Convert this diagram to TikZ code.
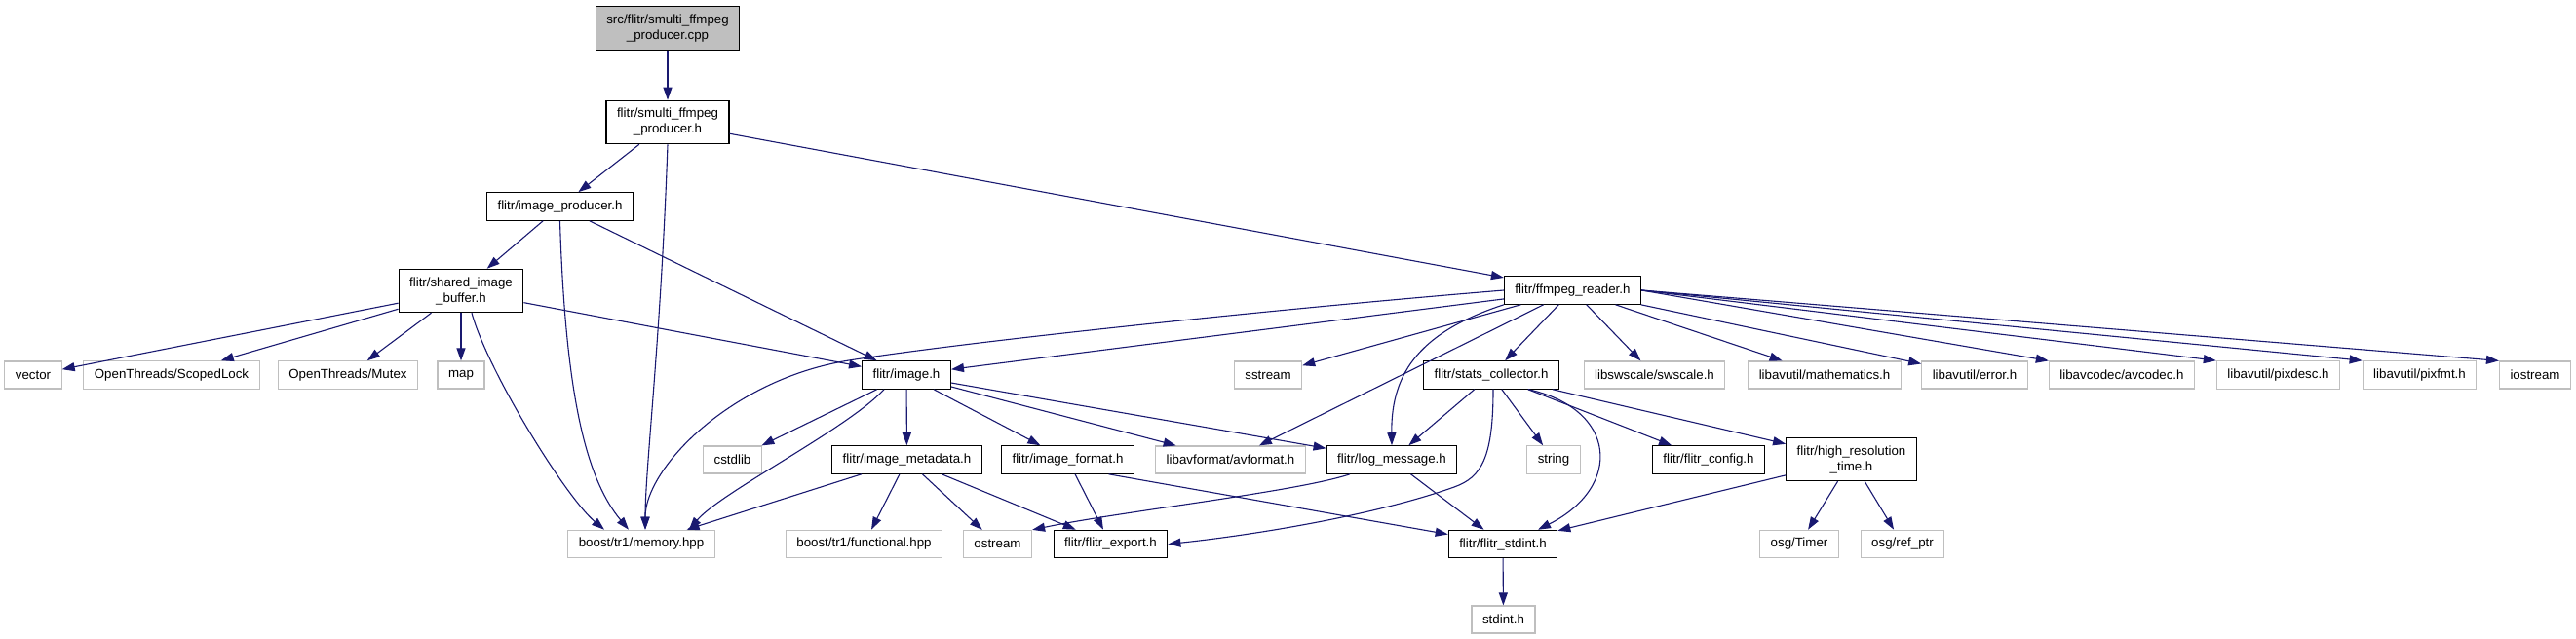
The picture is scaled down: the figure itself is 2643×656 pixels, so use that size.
\documentclass[tikz,border=0pt]{standalone}
\usepackage{fontspec}
\setmainfont{Liberation Sans}
\usetikzlibrary{arrows.meta}

\definecolor{edgeblue}{RGB}{25,25,112}
\definecolor{boxgrey}{RGB}{191,191,191}

\begin{document}
\begin{tikzpicture}[x=1pt, y=-1pt,
    every node/.style={font=\fontsize{13.3}{16}\selectfont, align=center,
      inner xsep=11pt, inner ysep=8pt, minimum height=28pt, line width=1.2pt},
    hdr/.style={draw=black, fill=white},
    ext/.style={draw=boxgrey, fill=white},
    srcbox/.style={draw=black, fill=boxgrey},
    inc/.style={draw=edgeblue, line width=1.1pt, -{Triangle[length=13pt,width=9pt]}}]

  \useasboundingbox (0,0) rectangle (2643,656);

  % Top of the graph
  \node[srcbox] (root) at (685,29) {src/flitr/smulti\_ffmpeg\\\_producer.cpp};
  \node[hdr] (smulti) at (685,125.5) {flitr/smulti\_ffmpeg\\\_producer.h};
  \node[hdr] (improd) at (574.5,212) {flitr/image\_producer.h};
  \node[hdr] (sib) at (473,298.5) {flitr/shared\_image\\\_buffer.h};
  \node[hdr] (ffr) at (1613.5,298) {flitr/ffmpeg\_reader.h};

  % Row of includes below the buffer and the reader
  \node[ext] (vec) at (34,385) {vector};
  \node[ext] (scoped) at (176,385) {OpenThreads/ScopedLock};
  \node[ext] (mutex) at (357,385) {OpenThreads/Mutex};
  \node[ext] (map) at (473,385) {map};
  \node[hdr] (image) at (930,385) {flitr/image.h};
  \node[ext] (sstream) at (1301,385) {sstream};
  \node[hdr] (stats) at (1530,385) {flitr/stats\_collector.h};
  \node[ext] (swscale) at (1697.5,385) {libswscale/swscale.h};
  \node[ext] (math) at (1872,385) {libavutil/mathematics.h};
  \node[ext] (error) at (2026,385) {libavutil/error.h};
  \node[ext] (avcodec) at (2177,385) {libavcodec/avcodec.h};
  \node[ext] (pixdesc) at (2337.5,385) {libavutil/pixdesc.h};
  \node[ext] (pixfmt) at (2482.5,385) {libavutil/pixfmt.h};
  \node[ext] (iostream) at (2601,385) {iostream};

  % Next row
  \node[ext] (cstdlib) at (751.5,472) {cstdlib};
  \node[hdr] (meta) at (930.5,472) {flitr/image\_metadata.h};
  \node[hdr] (format) at (1095.5,472) {flitr/image\_format.h};
  \node[ext] (avformat) at (1262.5,472) {libavformat/avformat.h};
  \node[hdr] (logmsg) at (1428,472) {flitr/log\_message.h};
  \node[ext] (string) at (1594,472) {string};
  \node[hdr] (config) at (1753,472) {flitr/flitr\_config.h};
  \node[hdr] (hrt) at (1899.5,471.5) {flitr/high\_resolution\\\_time.h};

  % Bottom rows
  \node[ext] (memory) at (658,558.5) {boost/tr1/memory.hpp};
  \node[ext] (functional) at (886.5,558.5) {boost/tr1/functional.hpp};
  \node[ext] (ostream) at (1023.5,558.5) {ostream};
  \node[hdr] (export) at (1139.5,558.5) {flitr/flitr\_export.h};
  \node[hdr] (fstdint) at (1542,558.5) {flitr/flitr\_stdint.h};
  \node[ext] (timer) at (1846,558.5) {osg/Timer};
  \node[ext] (refptr) at (1952,558.5) {osg/ref\_ptr};
  \node[ext] (stdint) at (1542.5,636) {stdint.h};

  % Edges from the top
  \draw[inc] (root) -- (smulti);
  \draw[inc] (smulti) -- (improd);
  \draw[inc] (smulti) -- (ffr);
  \draw[inc] (smulti.south) .. controls (678,350) and (662,480) .. ([xshift=4pt]memory.north);
  \draw[inc] (improd) -- (sib);
  \draw[inc] (improd) -- (image);
  \draw[inc] (improd.south) .. controls (580,400) and (600,490) .. ([xshift=-13pt]memory.north);

  % Shared image buffer
  \foreach \t in {vec,scoped,mutex,map,image} \draw[inc] (sib) -- (\t);
  \draw[inc] ([xshift=11pt]sib.south) .. controls (500,380) and (580,510) .. ([xshift=-38pt]memory.north);

  % Ffmpeg reader
  \foreach \t in {image,sstream,stats,avformat,swscale,math,error}
    \draw[inc] (ffr) -- (\t);
  \foreach \t in {avcodec,pixdesc,pixfmt,iostream}
    \draw[inc] (ffr.east) -- (\t.north west);
  \draw[inc] (ffr.west) .. controls (1300,318) and (991,351) .. (871,370)
    .. controls (751,389) and (662,480) .. ([xshift=4pt]memory.north);
  \draw[inc] (ffr.south west) .. controls (1460,340) and (1427,380) .. (logmsg.north);

  % Image header
  \foreach \t in {cstdlib,meta,format,avformat,logmsg} \draw[inc] (image) -- (\t);
  \draw[inc] ([xshift=-23pt]image.south) .. controls (870,440) and (740,505) .. ([xshift=49pt]memory.north);
  \foreach \t in {memory,functional,ostream,export} \draw[inc] (meta) -- (\t);
  \draw[inc] (format) -- (export);
  \draw[inc] ([xshift=42pt]format.south) -- (fstdint);

  % Log message and stats collector
  \draw[inc] ([xshift=-43pt]logmsg.south) .. controls (1330,505) and (1150,525) .. (ostream.north east);
  \draw[inc] (logmsg) -- (fstdint);
  \foreach \t in {logmsg,string,config,hrt} \draw[inc] (stats) -- (\t);
  \draw[inc] ([xshift=38pt]stats.south) .. controls (1660,420) and (1665,500) .. ([xshift=36pt]fstdint.north);
  \draw[inc] ([xshift=2pt]stats.south) .. controls (1532,470) and (1520,490) .. (1492,500)
    .. controls (1408,530) and (1280,550) .. (export.east);

  % High resolution time
  \foreach \t in {fstdint,timer,refptr} \draw[inc] (hrt) -- (\t);
  \draw[inc] (fstdint) -- (stdint);

\end{tikzpicture}
\end{document}
